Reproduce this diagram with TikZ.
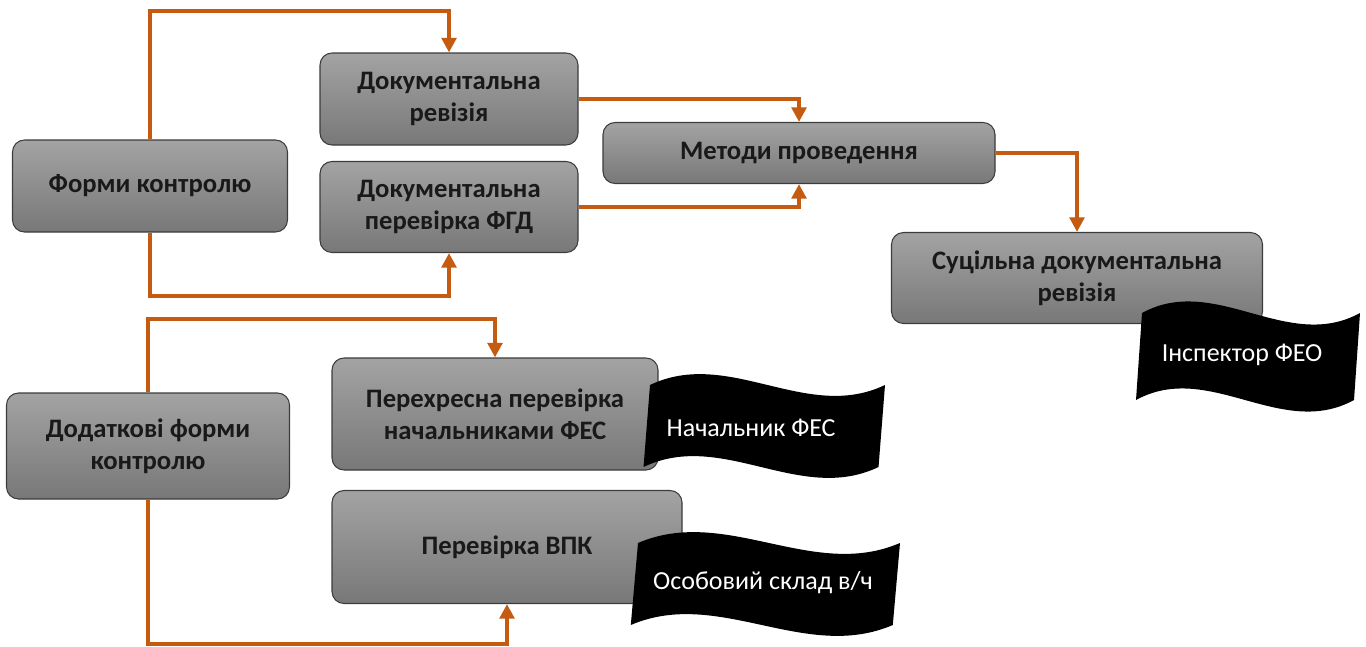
\documentclass[tikz,border=0pt]{standalone}
\usepackage{fontspec}
\setmainfont{Carlito}
\usetikzlibrary{arrows.meta}

\definecolor{boxtop}{RGB}{163,163,163}
\definecolor{boxbot}{RGB}{120,120,120}
\definecolor{boxline}{RGB}{60,60,60}
\definecolor{linkcol}{RGB}{197,90,17}

\tikzset{
	box/.style={draw=boxline, line width=0.8pt, rounded corners=9pt, top color=boxtop, bottom color=boxbot,
		align=center, inner sep=0pt, text=black!90, font=\bfseries\fontsize{20}{24}\selectfont},
	boxsize/.style 2 args={minimum width=#1*0.75pt, minimum height=#2*0.75pt},
	flagtext/.style={text=white, align=center, font=\fontsize{19.5}{24}\selectfont},
	link/.style={draw=linkcol, line width=3pt, -{Triangle[width=11pt,length=11pt]}}
}

% black wave banner: x, y (top left), width, height
\newcommand{\wave}[4]{%
	\begin{scope}[shift={(#1,#2)}, xscale=#3/218, yscale=#4/87]
	\fill[black] (0,0) .. controls (73,-40) and (145,40) .. (218,0) -- (212,87)
		.. controls (139,127) and (67,47) .. (-6,87) -- cycle;
	\end{scope}}

\begin{document}
\begin{tikzpicture}[x=0.75pt, y=-0.75pt]
	\useasboundingbox (0,0) rectangle (1366,646);
	\node[box, boxsize={275}{92}]  (fk)  at (150,186)  {Форми контролю};
	\node[box, boxsize={258}{92}]  (dr)  at (449,99)   {Документальна\\ревізія};
	\node[box, boxsize={258}{91}]  (dp)  at (449,207)  {Документальна\\перевірка ФГД};
	\node[box, boxsize={392}{61}]  (mp)  at (799,153)  {Методи проведення};
	\node[box, boxsize={371}{91}]  (sdr) at (1077,278) {Суцільна документальна\\ревізія};
	\node[box, boxsize={283}{106}] (dfk) at (148,446)  {Додаткові форми\\контролю};
	\node[box, boxsize={326}{112}] (pp)  at (495,414)  {Перехресна перевірка\\начальниками ФЕС};
	\node[box, boxsize={350}{113}] (vpk) at (507,547)  {Перевірка ВПК};

	\wave{1142}{313}{218}{87}
	\wave{650}{385}{235}{82}
	\wave{638}{543}{262}{82}
	\node[flagtext] (feo) at (1242,355) {Інспектор ФЕО};
	\node[flagtext] (fes) at (751,428)  {Начальник ФЕС};
	\node[flagtext] (vch) at (763,583)  {Особовий склад в/ч};

	\draw[link] (fk.north) -- ++(0,-128) -| (dr.north);
	\draw[link] (fk.south) -- ++(0,63) -| (dp.south);
	\draw[link] (dr.east) -| (mp.north);
	\draw[link] (dp.east) -| (mp.south);
	\draw[link] (mp.east) -| (sdr.north);
	\draw[link] (dfk.north) -- ++(0,-73) -| (pp.north);
	\draw[link] (dfk.south) -- ++(0,144) -| (vpk.south);
\end{tikzpicture}
\end{document}
